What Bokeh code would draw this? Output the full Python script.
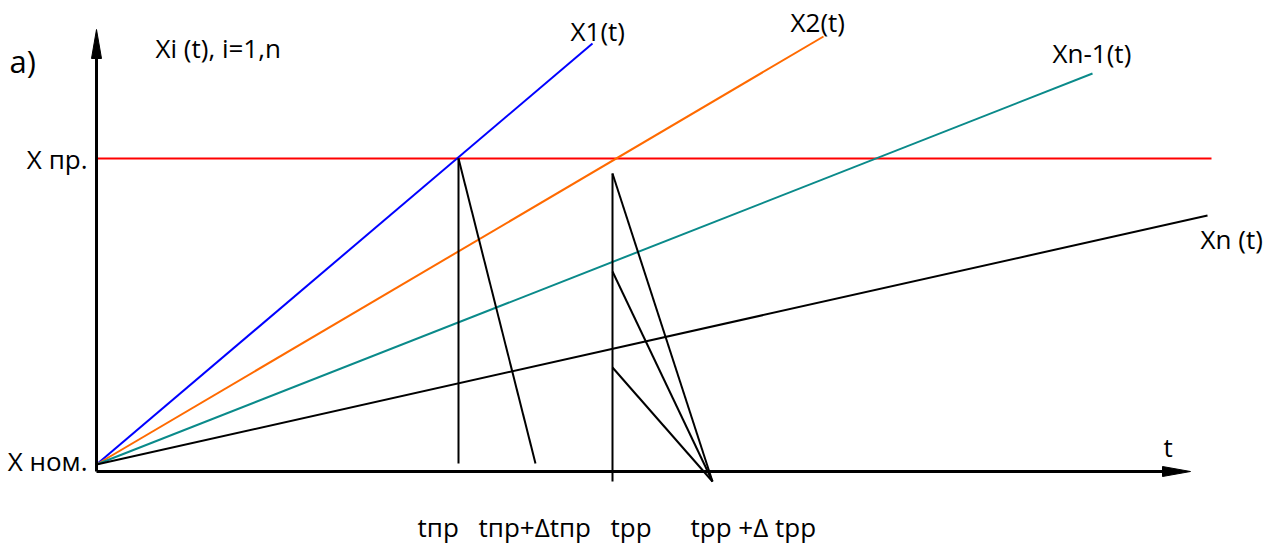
from bokeh.plotting import figure
from bokeh.models import Range1d
from bokeh.core.properties import value
from bokeh.embed import file_html
from bokeh.resources import INLINE

H = 546  # y = H - pixel row, so y grows upward

# ---- data (diagram geometry, in page units) ----
origin = (96, H - 464)
# characteristic lines Xi(t): end points
curve_names = ["X1(t)", "X2(t)", "Xn-1(t)", "Xn (t)"]
curve_end_x = [592, 823, 1092, 1207]
curve_end_y = [H - 43, H - 36, H - 73, H - 215]
curve_colors = ["#0000FF", "#FF6A00", "#0A8A8A", "#000000"]

# limit level X pr.
x_pr_level = H - 158
x_pr_x = [96, 1211]

# axes
y_axis_x = [96, 96]
y_axis_y = [H - 471, H - 55]
y_head_x = [91, 96, 101]
y_head_y = [H - 58, H - 29, H - 58]
x_axis_x = [96, 1165]
x_axis_y = [H - 471, H - 471]
x_head_x = [1162, 1190, 1162]
x_head_y = [H - 466, H - 471, H - 476]

# construction lines (segments)
seg_x0 = [458, 458, 612, 612, 612, 612]
seg_y0 = [H - 158, H - 158, H - 481, H - 173, H - 271, H - 367]
seg_x1 = [458, 535, 612, 712, 712, 712]
seg_y1 = [H - 463, H - 463, H - 173, H - 481, H - 481, H - 481]

# texts
lab_left_text = ["a)", "Xi (t), i=1,n", "X1(t)", "X2(t)", "Xn-1(t)", "Xn (t)", "t",
                 "tпр", "tпр+Δtпр", "tрр", "tрр +Δ tрр"]
lab_left_x = [9, 155, 570, 790, 1052, 1200, 1163, 417, 478, 610, 690]
lab_left_y = [H - 60, H - 47, H - 30, H - 21, H - 52, H - 238, H - 446,
              H - 526, H - 526, H - 526, H - 526]
lab_left_size = ["31px"] + ["26px"] * 10
lab_right_text = ["X пр.", "X ном."]
lab_right_x = [87, 87]
lab_right_y = [H - 158, H - 460]

p = figure(width=1272, height=546, output_backend="svg", toolbar_location=None,
           x_range=Range1d(0, 1272), y_range=Range1d(0, 546),
           min_border=0, min_border_left=0, min_border_right=0,
           min_border_top=0, min_border_bottom=0)
p.axis.visible = False
p.grid.visible = False
p.outline_line_color = None
p.background_fill_color = "white"

# limit line
p.line(x_pr_x, [x_pr_level, x_pr_level], line_color="#FF0000", line_width=2)

# curves
for ex, ey, c in zip(curve_end_x, curve_end_y, curve_colors):
    p.line([origin[0], ex], [origin[1], ey], line_color=c, line_width=2)

# construction segments
p.segment(x0=seg_x0, y0=seg_y0, x1=seg_x1, y1=seg_y1, line_color="black", line_width=2)

# axes
p.line(y_axis_x, y_axis_y, line_color="black", line_width=3)
p.line(x_axis_x, x_axis_y, line_color="black", line_width=3)
p.patch(y_head_x, y_head_y, fill_color="black", line_color="black")
p.patch(x_head_x, x_head_y, fill_color="black", line_color="black")

# texts
for t, x, y, s in zip(lab_left_text, lab_left_x, lab_left_y, lab_left_size):
    p.text(x=[x], y=[y], text=[t], text_align="left", text_baseline="middle",
           text_font=value("Open Sans"), text_font_size=s, text_color="black")
p.text(x=lab_right_x, y=lab_right_y, text=lab_right_text, text_align="right",
       text_baseline="middle", text_font=value("Open Sans"), text_font_size="26px",
       text_color="black")

open("out.html", "w").write(file_html(p, INLINE))
